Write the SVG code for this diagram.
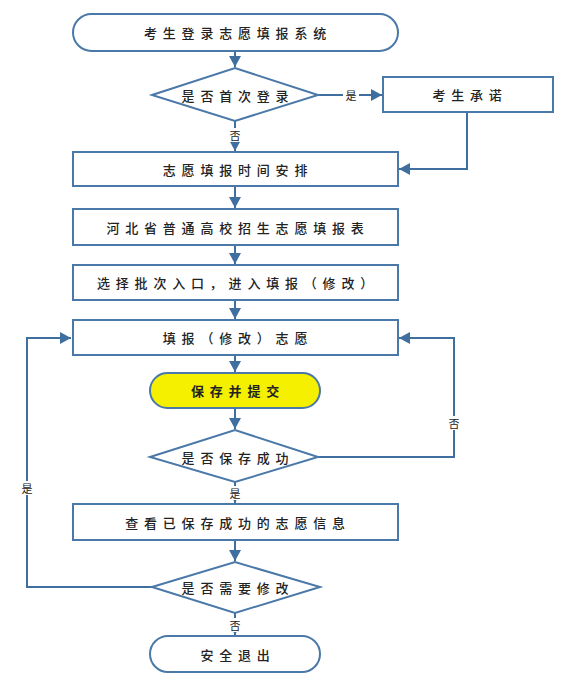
<svg xmlns="http://www.w3.org/2000/svg" width="569" height="685" viewBox="0 0 569 685">
<defs>
<marker id="ah" markerUnits="userSpaceOnUse" markerWidth="12" markerHeight="12" refX="11" refY="6" orient="auto">
<path d="M0,0 L11,6 L0,12 z" fill="#3f6f9f"/>
</marker>
<style>
.n{fill:#fff;stroke:#4a78a8;stroke-width:2}
.y{fill:#f5ef00;stroke:#4a78a8;stroke-width:2}
.t{font-family:"Noto Sans CJK SC","Noto Sans",sans-serif;font-size:13px;font-weight:500;fill:#222;text-anchor:middle;dominant-baseline:central;letter-spacing:5.8px}
.b{font-weight:bold}
.l{font-family:"Noto Sans CJK SC","Noto Sans",sans-serif;font-size:11px;fill:#222;text-anchor:middle;dominant-baseline:central}
.c{fill:none;stroke:#3f6f9f;stroke-width:2}
</style>
</defs>
<rect width="569" height="685" fill="#fff"/>
<g id="connectors">
<path class="c" d="M235,51 V67" marker-end="url(#ah)"/>
<path class="c" d="M318,95 H382" marker-end="url(#ah)"/>
<path class="c" d="M235,121 V151" marker-end="url(#ah)"/>
<path class="c" d="M467,112 V169 H399" marker-end="url(#ah)"/>
<path class="c" d="M235,186 V208" marker-end="url(#ah)"/>
<path class="c" d="M235,245 V264" marker-end="url(#ah)"/>
<path class="c" d="M235,300 V319" marker-end="url(#ah)"/>
<path class="c" d="M235,355 V372" marker-end="url(#ah)"/>
<path class="c" d="M235,408 V429" marker-end="url(#ah)"/>
<path class="c" d="M318,457 H454 V338 H399" marker-end="url(#ah)"/>
<path class="c" d="M235,482 V503" marker-end="url(#ah)"/>
<path class="c" d="M235,540 V561" marker-end="url(#ah)"/>
<path class="c" d="M152,587 H27 V338 H71" marker-end="url(#ah)"/>
<path class="c" d="M235,613 V635" marker-end="url(#ah)"/>
<rect x="343" y="88" width="16" height="14" fill="#fff"/>
<text class="l" x="351" y="95">是</text>
<rect x="228" y="128" width="14" height="14" fill="#fff"/>
<text class="l" x="235" y="135">否</text>
<rect x="447" y="416" width="14" height="14" fill="#fff"/>
<text class="l" x="454" y="423">否</text>
<rect x="228" y="486" width="14" height="14" fill="#fff"/>
<text class="l" x="235" y="493">是</text>
<rect x="20" y="481" width="14" height="14" fill="#fff"/>
<text class="l" x="27" y="488">是</text>
<rect x="228" y="618" width="14" height="14" fill="#fff"/>
<text class="l" x="235" y="625">否</text>
</g>
<g id="start"><rect class="n" x="73" y="14" width="325" height="37" rx="18.5"/><text class="t" x="238" y="32.5">考生登录志愿填报系统</text></g>
<g id="d1"><path class="n" d="M152,95 L235,68 L318,95 L235,121 z"/><text class="t" x="238" y="95">是否首次登录</text></g>
<g id="promise"><rect class="n" x="383" y="77" width="170" height="35"/><text class="t" x="470" y="94.5">考生承诺</text></g>
<g id="time"><rect class="n" x="73" y="152" width="325" height="34"/><text class="t" x="238" y="169">志愿填报时间安排</text></g>
<g id="form"><rect class="n" x="73" y="209" width="325" height="36"/><text class="t" x="238" y="227">河北省普通高校招生志愿填报表</text></g>
<g id="batch"><rect class="n" x="73" y="265" width="325" height="35"/><text class="t" x="238" y="282.5">选择批次入口，进入填报（修改）</text></g>
<g id="fill"><rect class="n" x="73" y="320" width="325" height="35"/><text class="t" x="238" y="337.5">填报（修改）志愿</text></g>
<g id="save"><rect class="y" x="150" y="373" width="170" height="35" rx="17.5"/><text class="t b" x="238" y="390.5">保存并提交</text></g>
<g id="d2"><path class="n" d="M150,457 L235,430 L318,457 L235,482 z"/><text class="t" x="238" y="457">是否保存成功</text></g>
<g id="view"><rect class="n" x="73" y="504" width="325" height="36"/><text class="t" x="238" y="522">查看已保存成功的志愿信息</text></g>
<g id="d3"><path class="n" d="M152,587 L235,562 L320,587 L235,613 z"/><text class="t" x="238" y="587">是否需要修改</text></g>
<g id="exit"><rect class="n" x="150" y="636" width="170" height="36" rx="18"/><text class="t" x="238" y="654">安全退出</text></g>
</svg>
